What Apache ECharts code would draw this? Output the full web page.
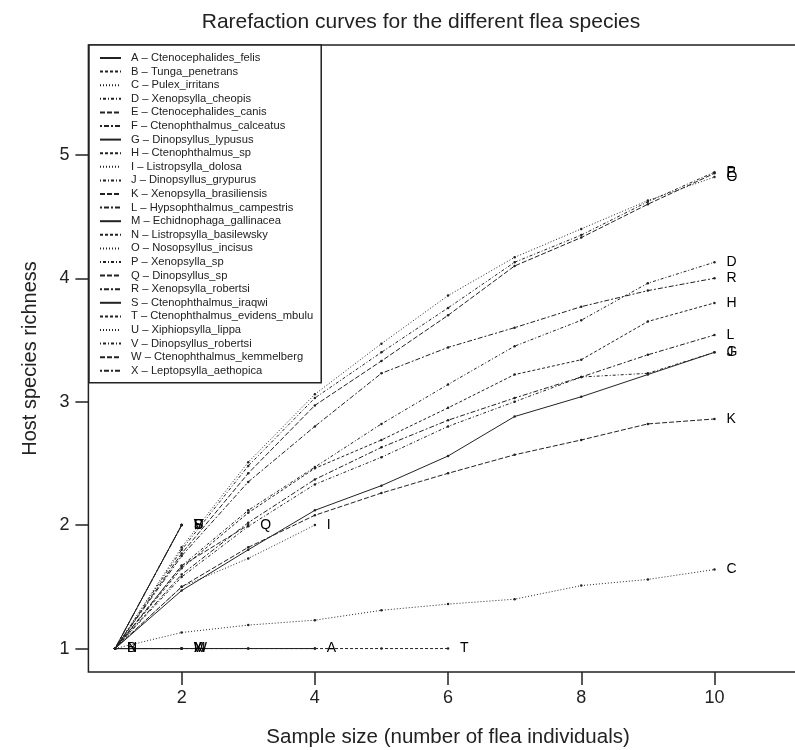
<!DOCTYPE html>
<html>
<head>
<meta charset="utf-8">
<script src="https://cdn.jsdelivr.net/npm/echarts@6/dist/echarts.min.js"></script>
<style>
  html, body { margin: 0; padding: 0; background: #fff; }
  #chart { width: 795px; height: 750px; }
</style>
</head>
<body>
<div id="chart"></div>
<script>
const FONT = '"Liberation Sans", Arial, Helvetica, sans-serif';

const letters = ['A','B','C','D','E','F','G','H','I','J','K','L','M','N','O','P','Q','R','S','T','U','V','W','X'];
const species = [
  'Ctenocephalides_felis', 'Tunga_penetrans', 'Pulex_irritans', 'Xenopsylla_cheopis',
  'Ctenocephalides_canis', 'Ctenophthalmus_calceatus', 'Dinopsyllus_lypusus', 'Ctenophthalmus_sp',
  'Listropsylla_dolosa', 'Dinopsyllus_grypurus', 'Xenopsylla_brasiliensis', 'Hypsophthalmus_campestris',
  'Echidnophaga_gallinacea', 'Listropsylla_basilewsky', 'Nosopsyllus_incisus', 'Xenopsylla_sp',
  'Dinopsyllus_sp', 'Xenopsylla_robertsi', 'Ctenophthalmus_iraqwi', 'Ctenophthalmus_evidens_mbulu',
  'Xiphiopsylla_lippa', 'Dinopsyllus_robertsi', 'Ctenophthalmus_kemmelberg', 'Leptopsylla_aethopica'
];

// host richness for sample size 1, 2, 3, ...
const curveA = [1, 1, 1, 1];
const curveB = [1];
const curveC = [1, 1.13, 1.19, 1.23, 1.31, 1.36, 1.40, 1.51, 1.56, 1.64];
const curveD = [1, 1.67, 2.12, 2.47, 2.82, 3.14, 3.45, 3.66, 3.96, 4.13];
const curveE = [1, 1.77, 2.42, 2.97, 3.33, 3.70, 4.10, 4.33, 4.60, 4.85];
const curveF = [1, 2];
const curveG = [1, 1.47, 1.80, 2.12, 2.32, 2.56, 2.88, 3.04, 3.22, 3.40];
const curveH = [1, 1.65, 2.10, 2.46, 2.69, 2.95, 3.22, 3.34, 3.65, 3.80];
const curveI = [1, 1.50, 1.73, 2.00];
const curveJ = [1, 1.58, 1.99, 2.33, 2.55, 2.80, 3.00, 3.20, 3.23, 3.40];
const curveK = [1, 1.50, 1.82, 2.08, 2.26, 2.42, 2.57, 2.69, 2.82, 2.86];
const curveL = [1, 1.60, 2.02, 2.37, 2.63, 2.85, 3.03, 3.20, 3.38, 3.54];
const curveM = [1, 1];
const curveN = [1];
const curveO = [1, 1.82, 2.51, 3.06, 3.47, 3.86, 4.17, 4.40, 4.63, 4.82];
const curveP = [1, 1.80, 2.48, 3.03, 3.40, 3.76, 4.13, 4.35, 4.62, 4.86];
const curveQ = [1, 1.67, 2.00];
const curveR = [1, 1.75, 2.35, 2.80, 3.23, 3.44, 3.60, 3.77, 3.90, 4.00];
const curveS = [1, 2];
const curveT = [1, 1, 1, 1, 1, 1];
const curveU = [1, 2];
const curveV = [1, 2];
const curveW = [1, 1];
const curveX = [1, 1];

const curves = [curveA, curveB, curveC, curveD, curveE, curveF, curveG, curveH, curveI, curveJ, curveK, curveL,
  curveM, curveN, curveO, curveP, curveQ, curveR, curveS, curveT, curveU, curveV, curveW, curveX];

const sampleTicks = [2, 4, 6, 8, 10];
const richnessTicks = [1, 2, 3, 4, 5];

// lty 1..6 like R: solid, dashed, dotted, dotdash, longdash, twodash
const ltyDash = ['solid', [3, 2], [1, 2], [1, 2, 3, 2], [5, 2], [2, 2, 5, 2]];

const series = letters.map((letter, i) => ({
  name: letter + ' \u2013 ' + species[i],
  type: 'line',
  data: curves[i].map((v, j) => [j + 1, v]),
  symbol: 'circle',
  symbolSize: 2.5,
  itemStyle: { color: '#222' },
  lineStyle: { color: '#222', width: 1, type: ltyDash[i % 6] },
  endLabel: {
    show: true,
    formatter: letter,
    distance: 12,
    fontSize: 14,
    color: '#000',
    fontFamily: FONT
  },
  silent: true,
  animation: false
}));

const chart = echarts.init(document.getElementById('chart'));
chart.setOption({
  animation: false,
  title: {
    text: 'Rarefaction curves for the different flea species',
    left: 416,
    top: 7,
    textAlign: 'center',
    textStyle: { fontSize: 21, fontWeight: 'normal', color: '#222', fontFamily: FONT }
  },
  legend: {
    orient: 'vertical',
    left: 89,
    top: 45,
    padding: [7, 8, 6, 10],
    itemWidth: 21,
    itemHeight: 12,
    itemGap: 1.6,
    borderColor: '#222',
    borderWidth: 1.5,
    backgroundColor: '#fff',
    selectedMode: false,
    itemStyle: { opacity: 0 },
    textStyle: { fontSize: 11.2, lineHeight: 12, color: '#222', fontFamily: FONT, padding: [0, 0, 0, 5] }
  },
  grid: {
    left: 88.4,
    width: 719.3,
    top: 45,
    bottom: 78,
    outerBoundsMode: 'none',
    show: true,
    borderColor: '#222',
    borderWidth: 1.5,
    containLabel: false
  },
  xAxis: {
    type: 'value',
    min: 0.6,
    max: 11.4,
    name: 'Sample size (number of flea individuals)',
    nameLocation: 'middle',
    nameGap: 55,
    nameMoveOverlap: false,
    nameTextStyle: { fontSize: 20.5, color: '#222', fontFamily: FONT },
    axisLine: { show: false },
    axisTick: { show: true, length: 13, lineStyle: { color: '#222', width: 1.5 }, customValues: sampleTicks },
    axisLabel: { fontSize: 18, color: '#222', fontFamily: FONT, margin: 17, customValues: sampleTicks },
    splitLine: { show: false }
  },
  yAxis: {
    type: 'value',
    min: 0.81,
    max: 5.89,
    name: 'Host species richness',
    nameLocation: 'middle',
    nameGap: 48,
    nameMoveOverlap: false,
    nameTextStyle: { fontSize: 20, color: '#222', fontFamily: FONT },
    axisLine: { show: false },
    axisTick: { show: true, length: 13, lineStyle: { color: '#222', width: 1.5 }, customValues: richnessTicks },
    axisLabel: { fontSize: 18, color: '#222', fontFamily: FONT, margin: 19, customValues: richnessTicks },
    splitLine: { show: false }
  },
  series: series
});
</script>
</body>
</html>
